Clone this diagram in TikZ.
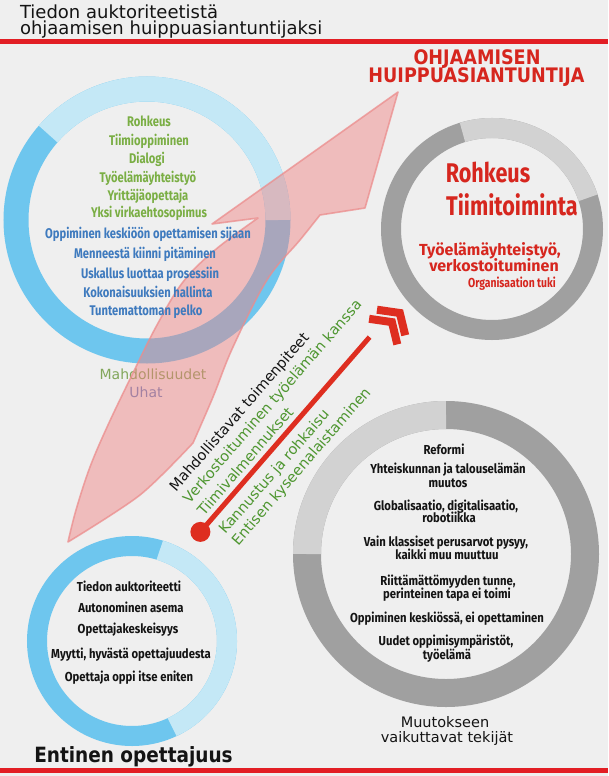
\documentclass[tikz,border=0pt]{standalone}
\usepackage{fontspec}
\setmainfont{DejaVu Sans}
\newfontfamily\cnd[FakeStretch=0.8]{Fira Sans}
\newfontfamily\cndm[FakeStretch=0.87]{Fira Sans}
\newfontfamily\cndw{Fira Sans}
\newfontfamily\djb[FakeStretch=0.88]{DejaVu Sans}
\definecolor{bg}{RGB}{239,239,239}
\definecolor{redline}{RGB}{226,30,36}
\definecolor{bluedk}{RGB}{110,198,238}
\definecolor{bluelt}{RGB}{196,232,246}
\definecolor{greydk}{RGB}{160,160,160}
\definecolor{greylt}{RGB}{210,210,210}
\definecolor{txtgreen}{RGB}{122,174,68}
\definecolor{txtblue}{RGB}{62,122,190}
\definecolor{txtred}{RGB}{214,38,30}
\definecolor{diaggreen}{RGB}{78,150,48}
\definecolor{pinkfill}{RGB}{240,128,128}
\definecolor{pinkline}{RGB}{236,140,140}
\definecolor{labgreen}{RGB}{130,166,90}
\definecolor{labblue}{RGB}{100,130,190}
\definecolor{chev}{RGB}{222,46,32}
\definecolor{txtblack}{RGB}{20,20,20}
\begin{document}
\begin{tikzpicture}[x=1pt,y=1pt,
  every node/.style={inner sep=0pt, outer sep=0pt},
  cb/.style={font=\cnd\bfseries\fontsize{14}{16}\selectfont, anchor=base},
  gr/.style={cb, text=txtgreen},
  bl/.style={cb, text=txtblue},
  rd/.style={font=\cnd\bfseries\fontsize{#1}{#1}\selectfont, anchor=base, text=txtred},
  rdw/.style={font=\cndw\bfseries\fontsize{#1}{#1}\selectfont, anchor=base, text=txtred},
  bk/.style={font=\cndm\bfseries\fontsize{13}{15}\selectfont, anchor=base, text=txtblack},
  lab/.style={font=\fontsize{14}{16}\selectfont, anchor=base},
  diag/.style={font=\fontsize{14.5}{16}\selectfont, rotate=49, anchor=west}]
\useasboundingbox (0,0) rectangle (608,-776);
\fill[bg] (0,0) rectangle (608,-776);
% red rules
\fill[redline] (0,-39) rectangle (608,-44);
\fill[redline] (0,-768) rectangle (608,-772.5);
% title
\node[font=\fontsize{18}{20}\selectfont, anchor=base west, text=txtblack] (title1) at (20,-18.5) {Tiedon auktoriteetistä};
\node[font=\fontsize{18}{20}\selectfont, anchor=base west, text=txtblack] (title2) at (20,-35) {ohjaamisen huippuasiantuntijaksi};
\node[font=\djb\bfseries\fontsize{20}{22}\selectfont, anchor=base, text=txtred] (goal1) at (477,-64) {OHJAAMISEN};
\node[font=\djb\bfseries\fontsize{20}{22}\selectfont, anchor=base, text=txtred] (goal2) at (476.5,-82) {HUIPPUASIANTUNTIJA};
% rings
\draw[bluedk, line width=25pt] (147,-220) circle[radius=131];
\draw[bluelt, line width=25pt] (147,-220) ++(0:131) arc[start angle=0, end angle=139, radius=131];
\draw[greydk, line width=20pt] (492,-229) circle[radius=101];
\draw[greylt, line width=20pt] (492,-229) ++(18:101) arc[start angle=18, end angle=107, radius=101];
\draw[greydk, line width=28pt] (446,-554) circle[radius=139];
\draw[greylt, line width=28pt] (446,-554) ++(90:139) arc[start angle=90, end angle=180, radius=139];
\draw[bluedk, line width=20pt] (132,-641) circle[radius=95];
\draw[bluelt, line width=20pt] (132,-641) ++(-65:95) arc[start angle=-65, end angle=73, radius=95];
% labels under translucent arrow
\node[lab, text=labgreen] (mahd) at (153,-379) {Mahdollisuudet};
\node[lab, text=labblue] (uhat) at (146,-397) {Uhat};
% big translucent arrow
\draw[pinkline, line width=1.6pt, fill=pinkfill, fill opacity=0.45, draw opacity=0.75, line join=round]
  (398,-92) -- (212,-224) -- (258,-218)
  -- plot[smooth, tension=0.6] coordinates {(258,-218) (215,-250) (183,-282) (157,-325) (132,-375) (108,-425) (90,-467) (76,-510) (68,-542)}
  -- plot[smooth, tension=0.5] coordinates {(68,-542) (140,-495) (193,-443)}
  -- plot[smooth, tension=0.6] coordinates {(193,-443) (213,-397) (233,-347) (267,-280) (300,-240) (320,-215)}
  -- (365,-208) -- cycle;
% top-left circle texts
\node[gr] (tl1) at (149,-126) {Rohkeus};
\node[gr] (tl2) at (149,-145) {Tiimioppiminen};
\node[gr] (tl3) at (147,-163) {Dialogi};
\node[gr] (tl4) at (148,-182) {Työelämäyhteistyö};
\node[gr] (tl5) at (148,-200) {Yrittäjäopettaja};
\node[gr] (tl6) at (149,-217) {Yksi virkaehtosopimus};
\node[bl] (tl7) at (148,-238) {Oppiminen keskiöön opettamisen sijaan};
\node[bl] (tl8) at (145,-258) {Menneestä kiinni pitäminen};
\node[bl] (tl9) at (150,-278) {Uskallus luottaa prosessiin};
\node[bl] (tl10) at (148,-297) {Kokonaisuuksien hallinta};
\node[bl] (tl11) at (146,-315) {Tuntemattoman pelko};
% top-right circle texts
\node[rd=27] (tr1) at (488,-182.5) {Rohkeus};
\node[rd=27] (tr2) at (512,-215.5) {Tiimitoiminta};
\node[rdw=16] (tr3) at (490,-255.5) {Työelämäyhteistyö,};
\node[rdw=16] (tr4) at (494,-271) {verkostoituminen};
\node[rd=13] (tr5) at (512,-287.5) {Organisaation tuki};
% bottom-right circle texts
\node[bk] (br1) at (444,-454.5) {Reformi};
\node[bk] (br2) at (448,-473.5) {Yhteiskunnan ja talouselämän};
\node[bk] (br3) at (448,-487.5) {muutos};
\node[bk] (br4) at (446,-510.5) {Globalisaatio, digitalisaatio,};
\node[bk] (br5) at (449,-522.5) {robotiikka};
\node[bk] (br6) at (446,-546.5) {Vain klassiset perusarvot pysyy,};
\node[bk] (br7) at (447,-559.5) {kaikki muu muuttuu};
\node[bk] (br8) at (448,-585.5) {Riittämättömyyden tunne,};
\node[bk] (br9) at (447,-598.5) {perinteinen tapa ei toimi};
\node[bk] (br10) at (447,-622.5) {Oppiminen keskiössä, ei opettaminen};
\node[bk] (br11) at (446,-645.5) {Uudet oppimisympäristöt,};
\node[bk] (br12) at (447,-659.5) {työelämä};
\node[lab, font=\fontsize{14.5}{16}\selectfont, text=txtblack] (mv1) at (445,-727) {Muutokseen};
\node[lab, font=\fontsize{14.5}{16}\selectfont, text=txtblack] (mv2) at (447,-742) {vaikuttavat tekijät};
% bottom-left circle texts
\node[bk] (bl1) at (129,-591.5) {Tiedon auktoriteetti};
\node[bk] (bl2) at (131,-612.5) {Autonominen asema};
\node[bk] (bl3) at (128,-633.5) {Opettajakeskeisyys};
\node[bk] (bl4) at (131,-658.5) {Myytti, hyvästä opettajuudesta};
\node[bk] (bl5) at (129,-681.5) {Opettaja oppi itse eniten};
\node[font=\djb\bfseries\fontsize{21}{23}\selectfont, anchor=base, text=txtblack] (entinen) at (133.5,-762) {Entinen opettajuus};
% diagonal measures
\node[diag, text=txtblack] (d1) at (173,-489.5) {Mahdollistavat toimenpiteet};
\node[diag, text=diaggreen] (d2) at (186.6,-501.4) {Verkostoituminen työelämän kanssa};
\node[diag, text=diaggreen] (d3) at (200.1,-513) {Tiimivalmennukset};
\node[diag, text=diaggreen] (d4) at (222.3,-532.3) {Kannustus ja rohkaisu};
\node[diag, text=diaggreen] (d5) at (235.3,-543.6) {Entisen kyseenalaistaminen};
% red progress line with chevrons
\coordinate (dot) at (200.4,-531.9);
\coordinate (lineend) at (369.6,-337.1);
\draw[chev, line width=5pt] (dot) -- (lineend);
\fill[chev] (dot) circle[radius=10];
\coordinate (c1a) at (377.0,-309.7);
\coordinate (c1t) at (399.8,-313.0);
\coordinate (c1b) at (405.2,-335.3);
\coordinate (c2a) at (369.1,-318.8);
\coordinate (c2t) at (391.9,-322.1);
\coordinate (c2b) at (397.3,-344.4);
\draw[chev, line width=8pt, line join=miter] (c1a) -- (c1t) -- (c1b);
\draw[chev, line width=8pt, line join=miter] (c2a) -- (c2t) -- (c2b);
\end{tikzpicture}
\end{document}
